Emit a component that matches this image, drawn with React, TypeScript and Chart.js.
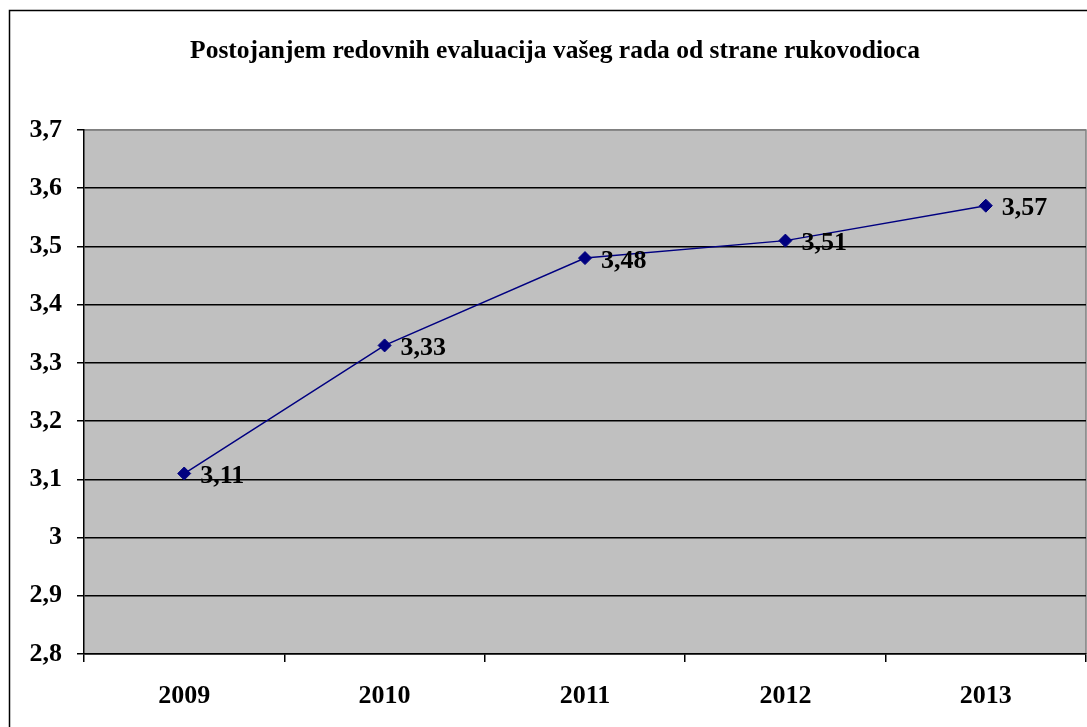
import React, { useEffect, useRef } from "react";
import { Chart, registerables } from "chart.js";

Chart.register(...registerables);

const title = "Postojanjem redovnih evaluacija vašeg rada od strane rukovodioca";
const categories = ["2009", "2010", "2011", "2012", "2013"];
const values = [3.11, 3.33, 3.48, 3.51, 3.57];
const yMin = 2.8;
const yMax = 3.7;
const yStep = 0.1;

const FONT = "'Liberation Serif', 'Times New Roman', serif";
const fmt = (v: number) => String(+v.toFixed(2)).replace(".", ",");

export default function App() {
  const ref = useRef<HTMLCanvasElement>(null);
  useEffect(() => {
    const canvas = ref.current!;
    const framePlugin = {
      id: "frame",
      beforeDraw(chart: any) {
        const { ctx, chartArea: a } = chart;
        ctx.save();
        ctx.fillStyle = "#ffffff";
        ctx.fillRect(0, 0, chart.width, chart.height);
        ctx.fillStyle = "#C0C0C0";
        ctx.fillRect(a.left, a.top, a.right - a.left, a.bottom - a.top);
        ctx.strokeStyle = "#808080";
        ctx.lineWidth = 1.5;
        ctx.beginPath();
        ctx.moveTo(a.left, a.top);
        ctx.lineTo(a.right, a.top);
        ctx.lineTo(a.right, a.bottom);
        ctx.stroke();
        ctx.restore();
      },
      afterDraw(chart: any) {
        const { ctx } = chart;
        ctx.save();
        ctx.strokeStyle = "#000";
        ctx.lineWidth = 1.5;
        ctx.strokeRect(9.5, 10.5, 2000, 2000);
        ctx.fillStyle = "#000";
        ctx.font = `bold 25.5px ${FONT}`;
        ctx.textAlign = "center";
        ctx.textBaseline = "middle";
        ctx.fillText(title, 555, 51);
        // data labels
        const meta = chart.getDatasetMeta(0);
        ctx.font = `bold 26px ${FONT}`;
        ctx.textAlign = "left";
        meta.data.forEach((pt: any, i: number) => {
          ctx.fillText(fmt(values[i]), pt.x + 16, pt.y + 3);
        });
        ctx.restore();
      },
    };
    const chart = new Chart(canvas, {
      type: "line",
      data: {
        labels: categories,
        datasets: [
          {
            data: values,
            borderColor: "#000080",
            backgroundColor: "#000080",
            borderWidth: 1.5,
            pointStyle: "rectRot",
            pointRadius: 6.5,
            pointBorderWidth: 1,
            tension: 0,
          },
        ],
      },
      options: {
        responsive: false,
        animation: false,
        devicePixelRatio: 1,
        layout: { autoPadding: false, padding: { top: 130, right: 1, left: 0, bottom: 0 } },
        plugins: { legend: { display: false }, tooltip: { enabled: false } },
        scales: {
          x: {
            offset: true,
            grid: {
              offset: true,
              drawOnChartArea: false,
              drawTicks: true,
              tickLength: 8,
              color: "#000",
              lineWidth: 1.5,
            },
            border: { color: "#000", width: 1.5 },
            ticks: {
              color: "#000",
              font: { family: FONT, size: 26, weight: "bold" },
              padding: 19,
              maxRotation: 0,
            },
            afterFit(scale: any) {
              scale.height = 73;
              scale.paddingLeft = 0;
              scale.paddingRight = 0;
            },
          },
          y: {
            min: yMin,
            max: yMax,
            grid: {
              color: (c: any) => (Math.abs(c.tick?.value - yMax) < 1e-6 ? "#808080" : "#000"),
              lineWidth: 1.5,
              tickLength: 7,
              tickColor: "#000",
            },
            border: { color: "#000", width: 1.5 },
            ticks: {
              stepSize: yStep,
              color: "#000",
              font: { family: FONT, size: 26, weight: "bold" },
              padding: 15,
              callback: (v: any) => fmt(Number(v)),
            },
            afterFit(scale: any) {
              scale.width = 84;
            },
          },
        },
      },
      plugins: [framePlugin],
    } as any);
    return () => chart.destroy();
  }, []);
  return (
    <div style={{ position: "absolute", left: 0, top: 0, width: 1087, height: 727 }}>
      <canvas ref={ref} width={1087} height={727} style={{ display: "block" }} />
    </div>
  );
}
